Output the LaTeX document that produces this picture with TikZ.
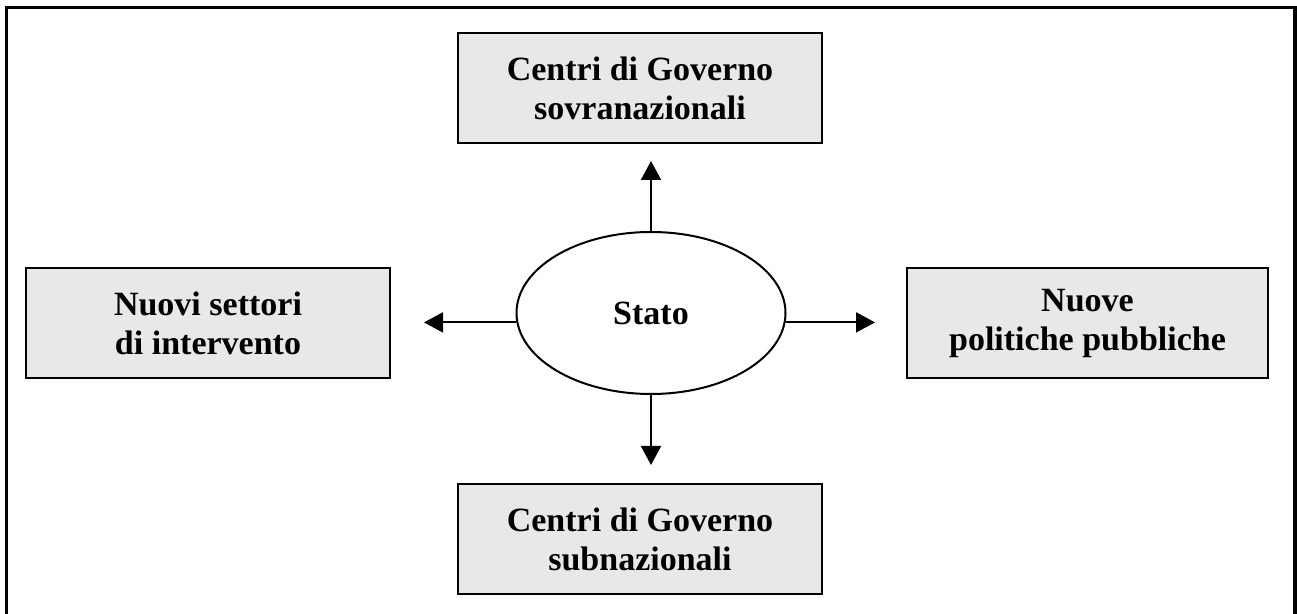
\documentclass[tikz,border=0pt]{standalone}
\usepackage{fontspec}
\setmainfont{Liberation Serif}
\usetikzlibrary{shapes.geometric,arrows.meta}
\definecolor{boxgray}{RGB}{232,232,232}
\tikzset{
  box/.style={draw=black, line width=1pt, fill=boxgray, align=center, inner sep=0pt,
    font=\bfseries\fontsize{17}{19.5}\selectfont},
  oval/.style={draw=black, line width=1pt, ellipse, inner sep=0pt,
    minimum width=134.5pt, minimum height=81pt,
    font=\bfseries\fontsize{17}{19.5}\selectfont},
  arr/.style={draw=black, line width=1pt, -{Triangle[length=9.5pt,width=10pt]}},
  frame/.style={draw=black, line width=1.75pt}
}
\begin{document}
\begin{tikzpicture}[x=0.5pt,y=-0.5pt]
\useasboundingbox (0,0) rectangle (1297,614);
\draw[frame] (6.5,616) -- (6.5,7.5) -- (1295,7.5) -- (1295,616);
\node[box, minimum width=182pt, minimum height=55pt] (sovr) at (640,88) {Centri di Governo\\sovranazionali};
\node[box, minimum width=182pt, minimum height=55pt] (subn) at (640,539) {Centri di Governo\\subnazionali};
\node[box, minimum width=182pt, minimum height=55pt] (sett) at (208,323) {Nuovi settori\\di intervento};
\node[box, minimum width=180.5pt, minimum height=55pt] (poli) at (1087.5,323) {Nuove\\politiche pubbliche};
\node[oval] (stato) at (651,313) {Stato};
\coordinate (tu) at (651,161);
\coordinate (td) at (651,465);
\coordinate (tl) at (424,322);
\coordinate (tr) at (875,322);
\draw[arr] (stato.north) -- (stato.north |- tu);
\draw[arr] (stato.south) -- (stato.south |- td);
\draw[arr] (stato.184) -- (stato.184 -| tl);
\draw[arr] (stato.-4) -- (stato.-4 -| tr);
\end{tikzpicture}
\end{document}
